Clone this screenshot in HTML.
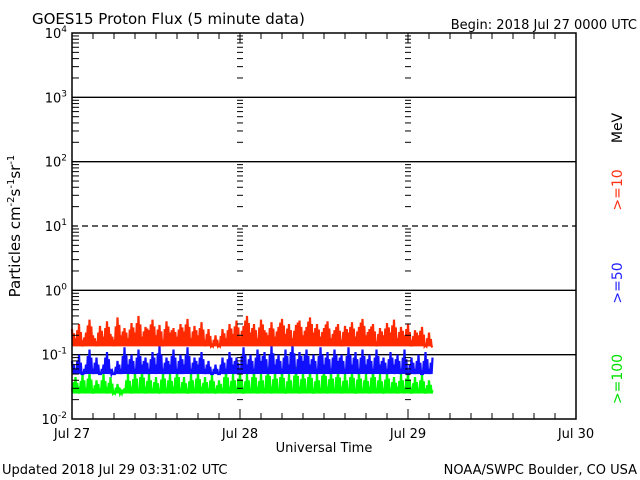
<!DOCTYPE html>
<html><head><meta charset="utf-8"><style>
body{margin:0;background:#fff;}
svg{display:block;font-family:"DejaVu Sans","Liberation Sans",sans-serif;}
</style></head><body>
<svg id="chart" width="640" height="480" viewBox="0 0 640 480">
<rect width="640" height="480" fill="#fff"/>
<text x="32" y="24" font-size="15">GOES15 Proton Flux (5 minute data)</text>
<text x="637" y="29" font-size="13" text-anchor="end">Begin: 2018 Jul 27 0000 UTC</text>
<g id="grid"></g>
<g id="series"></g>
<rect x="72" y="33" width="504" height="386" fill="none" stroke="#000" stroke-width="1.5"/>
<g id="ticks"></g>
<g id="labels" font-size="13"></g>
<text x="324" y="452" font-size="13" text-anchor="middle">Universal Time</text>
<text transform="translate(20,226) rotate(-90)" font-size="15" text-anchor="middle">Particles cm<tspan font-size="10" dy="-6">-2</tspan><tspan dy="6">s</tspan><tspan font-size="10" dy="-6">-1</tspan><tspan dy="6">sr</tspan><tspan font-size="10" dy="-6">-1</tspan></text>
<text transform="translate(622,128) rotate(-90)" font-size="14" text-anchor="middle">MeV</text>
<text transform="translate(622,190) rotate(-90)" font-size="14" fill="#ff3010" text-anchor="middle">&gt;=10</text>
<text transform="translate(622,283) rotate(-90)" font-size="14" fill="#2020ff" text-anchor="middle">&gt;=50</text>
<text transform="translate(622,379) rotate(-90)" font-size="14" fill="#00e000" text-anchor="middle">&gt;=100</text>
<text x="2" y="474" font-size="13">Updated 2018 Jul 29 03:31:02 UTC</text>
<text x="637" y="474" font-size="13" text-anchor="end">NOAA/SWPC Boulder, CO USA</text>
</svg>
<script>
const dayLabels=["Jul 27","Jul 28","Jul 29","Jul 30"];
const decadeExps=[-2,-1,0,1,2,3,4];
const endHours=51.5;
const floors=[0.135,0.05,0.025];
const red=[0.25,0.18,0.3,0.15,0.22,0.35,0.2,0.16,0.28,0.19,0.33,0.21,0.17,0.38,0.2,0.26,0.18,0.31,0.22,0.4,0.19,0.27,0.24,0.35,0.2,0.29,0.17,0.33,0.22,0.26,0.19,0.3,0.23,0.36,0.18,0.28,0.2,0.32,0.17,0.25,0.14,0.2,0.14,0.25,0.18,0.3,0.21,0.34,0.19,0.28,0.4,0.22,0.3,0.18,0.35,0.24,0.2,0.32,0.19,0.27,0.36,0.21,0.3,0.18,0.29,0.34,0.2,0.27,0.38,0.22,0.3,0.19,0.26,0.33,0.18,0.24,0.3,0.17,0.28,0.22,0.32,0.19,0.27,0.36,0.2,0.25,0.3,0.16,0.26,0.2,0.31,0.22,0.35,0.18,0.27,0.2,0.3,0.15,0.24,0.2,0.27,0.14,0.22,0.13];
const blue=[0.08,0.06,0.1,0.05,0.07,0.12,0.06,0.09,0.05,0.07,0.11,0.06,0.05,0.08,0.06,0.13,0.07,0.1,0.06,0.12,0.07,0.09,0.06,0.11,0.07,0.14,0.06,0.09,0.07,0.12,0.06,0.1,0.07,0.13,0.06,0.09,0.07,0.11,0.06,0.08,0.05,0.07,0.05,0.09,0.06,0.11,0.07,0.09,0.06,0.13,0.07,0.1,0.06,0.12,0.08,0.11,0.06,0.14,0.07,0.1,0.06,0.12,0.07,0.15,0.06,0.11,0.08,0.12,0.07,0.1,0.06,0.13,0.07,0.11,0.06,0.12,0.08,0.1,0.06,0.13,0.07,0.11,0.06,0.12,0.07,0.1,0.06,0.12,0.07,0.09,0.06,0.11,0.07,0.1,0.06,0.12,0.05,0.09,0.06,0.1,0.05,0.11,0.06,0.09];
const green=[0.03,0.045,0.028,0.05,0.03,0.055,0.027,0.04,0.03,0.05,0.028,0.045,0.026,0.035,0.027,0.03,0.05,0.028,0.055,0.03,0.06,0.028,0.05,0.03,0.045,0.027,0.055,0.03,0.05,0.028,0.06,0.03,0.045,0.027,0.05,0.03,0.055,0.028,0.045,0.03,0.05,0.027,0.04,0.03,0.06,0.028,0.05,0.03,0.055,0.027,0.05,0.03,0.06,0.028,0.05,0.03,0.065,0.028,0.055,0.03,0.06,0.027,0.05,0.03,0.065,0.028,0.055,0.03,0.06,0.027,0.05,0.03,0.065,0.028,0.055,0.03,0.06,0.028,0.05,0.03,0.06,0.027,0.055,0.03,0.05,0.028,0.06,0.03,0.05,0.027,0.055,0.03,0.045,0.028,0.05,0.03,0.055,0.027,0.045,0.03,0.05,0.027,0.04,0.028];
const NS="http://www.w3.org/2000/svg";
const X0=72,X1=576,Y0=419,Y1=33;
const xH=h=>X0+(X1-X0)*h/72;
const yV=v=>Y0-(Math.log10(v)+2)*(Y0-Y1)/6;
function mk(tag,attrs,parent){const e=document.createElementNS(NS,tag);for(const k in attrs)e.setAttribute(k,attrs[k]);parent.appendChild(e);return e;}
const grid=document.getElementById('grid'),ticks=document.getElementById('ticks'),labels=document.getElementById('labels'),ser=document.getElementById('series');
decadeExps.forEach(p=>{
  const y=yV(Math.pow(10,p));
  if(p>-2&&p<4){const l=mk('line',{x1:X0,x2:X1,y1:y,y2:y,stroke:'#000','stroke-width':1.3},grid);
    if(p===1)l.setAttribute('stroke-dasharray','6,4');
    
    }
  const t=mk('text',{x:X0-5,y:y+5,'text-anchor':'end'},labels);
  
  
  t.textContent='10';
  const s=mk('tspan',{'font-size':9,dy:-6},t);s.textContent=String(p);
  if(p<4)for(let m=2;m<=9;m++){const ym=yV(m*Math.pow(10,p));
    [X0,xH(24),xH(48)].forEach((x,i)=>{const L=i===0?[X0,X0+7]:[x-3,x+3];
      const tk=mk('line',{x1:L[0],x2:L[1],y1:ym,y2:ym,stroke:'#000','stroke-width':1},ticks);
      
      });}
});
for(let h=0;h<=72;h+=3){const x=xH(h),len=(h%24===0)?10:6;
  const a=mk('line',{x1:x,x2:x,y1:Y0,y2:Y0-len,stroke:'#000'},ticks);
  
  
  const b=mk('line',{x1:x,x2:x,y1:Y1,y2:Y1+len,stroke:'#000'},ticks);
  
  }
dayLabels.forEach((d,i)=>{const t=mk('text',{x:xH(i*24),y:438,'text-anchor':'middle'},labels);
  
  
  t.textContent=d;});
[[green,'#00ff00','series-100mev',2],[blue,'#1010ff','series-50mev',1],[red,'#ff2a00','series-10mev',0]].forEach(([arr,c,n,fi])=>{
  const dx=xH(endHours/(arr.length-1))-X0;
  const fy=yV(floors[fi]);
  const pts=[];
  arr.forEach((v,i)=>{const x=xH(endHours*i/(arr.length-1));
    pts.push(x.toFixed(1)+','+yV(v).toFixed(1));
    if(i<arr.length-1){pts.push((x+dx*0.25).toFixed(1)+','+fy.toFixed(1));
      pts.push((x+dx*0.5).toFixed(1)+','+yV((v+arr[i+1])/2).toFixed(1));
      pts.push((x+dx*0.75).toFixed(1)+','+fy.toFixed(1));}});
  const pl=mk('polyline',{points:pts.join(' '),fill:'none',stroke:c,'stroke-width':2.2},ser);
  
  });
</script>
</body></html>
